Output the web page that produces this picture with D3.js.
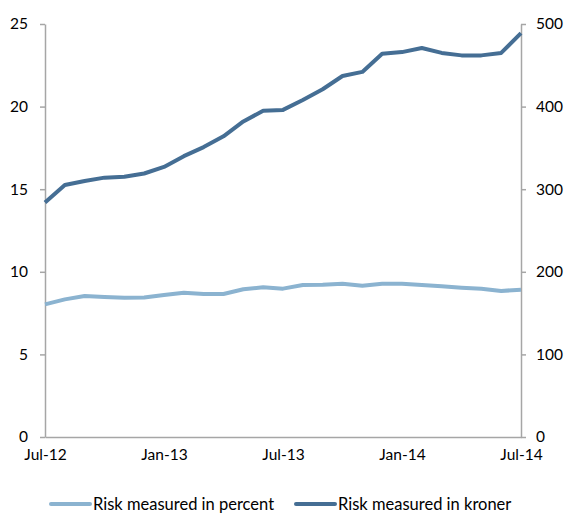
<!DOCTYPE html>
<html>
<head>
<meta charset="utf-8">
<script src="https://cdn.jsdelivr.net/npm/d3@7"></script>
<style>
    body { margin: 0; background: #fff; }
    text { font-family: Lato, "Noto Sans", sans-serif; fill: #000; }
    .axis path, .axis line { stroke: #a6a6a6; stroke-width: 1.5; }
</style>
</head>
<body>
<script>
    //chart data, monthly Jul-12 to Jul-14
    var months = ["Jul-12","Aug-12","Sep-12","Oct-12","Nov-12","Dec-12","Jan-13","Feb-13","Mar-13","Apr-13","May-13","Jun-13",
        "Jul-13","Aug-13","Sep-13","Oct-13","Nov-13","Dec-13","Jan-14","Feb-14","Mar-14","Apr-14","May-14","Jun-14","Jul-14"];
    var percentValues = [8.03, 8.33, 8.53, 8.47, 8.43, 8.45, 8.6, 8.73, 8.66, 8.66, 8.94, 9.06,
        8.98, 9.2, 9.22, 9.28, 9.16, 9.28, 9.28, 9.2, 9.12, 9.04, 8.98, 8.84, 8.92];
    var kronerValues = [284, 305, 310, 314, 315, 319, 327, 340, 351, 364, 382, 395,
        396, 408, 421, 437, 442, 464, 466, 471, 465, 462, 462, 465, 489];
    var xTickLabels = ["Jul-12","Jan-13","Jul-13","Jan-14","Jul-14"];
    var leftTicks = [0, 5, 10, 15, 20, 25];
    var rightTicks = [0, 100, 200, 300, 400, 500];
    var seriesNames = ["Risk measured in percent", "Risk measured in kroner"];
    var seriesColors = ["#8bb3d0", "#456e94"];

    var width = 566, height = 515;
    var margin = {left: 45, right: 45, top: 24, bottom: 78};

    var svg = d3.select("body")
        .append("svg")
        .attr("width", width)
        .attr("height", height);

    //scales
    var x = d3.scalePoint()
        .domain(months)
        .range([margin.left, width - margin.right]);
    var yLeft = d3.scaleLinear()
        .domain([0, 25])
        .range([height - margin.bottom, margin.top]);
    var yRight = d3.scaleLinear()
        .domain([0, 500])
        .range([height - margin.bottom, margin.top]);

    //axes
    var leftAxis = svg.append("g")
        .attr("class", "axis")
        .attr("transform", "translate(" + margin.left + ",0)")
        .call(d3.axisLeft(yLeft).tickValues(leftTicks).tickSize(5).tickPadding(12).tickSizeOuter(0));
    var rightAxis = svg.append("g")
        .attr("class", "axis")
        .attr("transform", "translate(" + (width - margin.right) + ",0)")
        .call(d3.axisRight(yRight).tickValues(rightTicks).tickSize(5).tickPadding(10).tickSizeOuter(0));
    var bottomAxis = svg.append("g")
        .attr("class", "axis")
        .attr("transform", "translate(0," + (height - margin.bottom) + ")")
        .call(d3.axisBottom(x).tickValues(xTickLabels).tickSize(0).tickPadding(12).tickSizeOuter(0));

    svg.selectAll(".axis text").style("font-size", "15.5px");
    svg.selectAll(".axis .domain").attr("stroke", "#a6a6a6");

    //lines
    var percentLine = d3.line()
        .x(function(d, i) { return x(months[i]); })
        .y(function(d) { return yLeft(d); });
    var kronerLine = d3.line()
        .x(function(d, i) { return x(months[i]); })
        .y(function(d) { return yRight(d); });

    svg.append("path")
        .datum(percentValues)
        .attr("fill", "none")
        .attr("stroke", seriesColors[0])
        .attr("stroke-width", 4)
        .attr("stroke-linejoin", "round")
        .attr("d", percentLine);

    svg.append("path")
        .datum(kronerValues)
        .attr("fill", "none")
        .attr("stroke", seriesColors[1])
        .attr("stroke-width", 4)
        .attr("stroke-linejoin", "round")
        .attr("d", kronerLine);

    //legend
    var legendX = [51, 296];
    var legend = svg.selectAll(".legend")
        .data(seriesNames)
        .enter()
        .append("g")
        .attr("class", "legend")
        .attr("transform", function(d, i) { return "translate(" + legendX[i] + ",504)"; });
    legend.append("line")
        .attr("x1", 0).attr("x2", 39)
        .attr("stroke", function(d, i) { return seriesColors[i]; })
        .attr("stroke-width", 4)
        .attr("stroke-linecap", "round");
    legend.append("text")
        .attr("x", 42)
        .attr("dy", "0.35em")
        .style("font-size", "16.5px")
        .text(function(d) { return d; });
</script>
</body>
</html>
